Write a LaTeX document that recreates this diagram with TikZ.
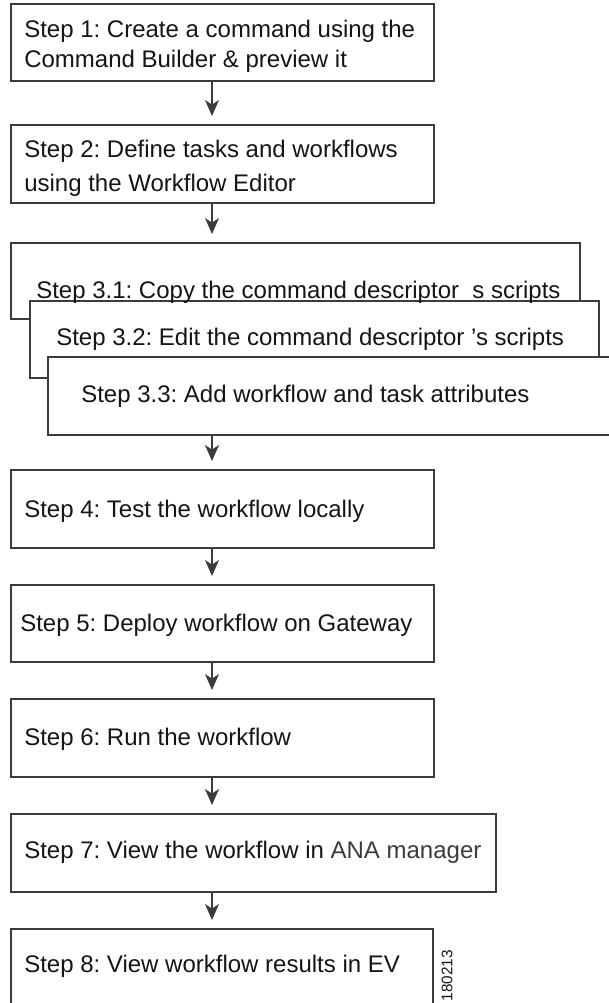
\documentclass[tikz,border=0pt]{standalone}
\usepackage{fontspec}
\setmainfont{Liberation Sans}
\usetikzlibrary{arrows.meta}
\definecolor{ink}{HTML}{151515}
\definecolor{edge}{HTML}{3C3C3C}
\frenchspacing
\begin{document}
\begin{tikzpicture}[x=0.75pt,y=-0.75pt,
  stepbox/.style={draw=edge, line width=1.3pt, fill=white, rectangle,
    anchor=north west, inner sep=0pt},
  steptext/.style={anchor=base west, inner sep=0pt, text=ink,
    font=\fontsize{18}{21.6}\selectfont},
  flow/.style={draw=edge, line width=1.2pt,
    -{Stealth[length=12pt, width=10.5pt, inset=3.5pt]}, shorten >=6pt},
  figid/.style={rotate=90, anchor=east, inner sep=0pt, text=ink,
    font=\fontsize{11.5}{12}\selectfont}]

\useasboundingbox (0,0) rectangle (608,1003);

% column of the connectors
\coordinate (ax) at (212,0);

% step boxes
\node[stepbox, minimum width=317.25pt, minimum height=57.75pt] (b1) at (10,3) {};
\node[stepbox, minimum width=317.25pt, minimum height=58.5pt] (b2) at (10,124) {};
\node[stepbox, minimum width=426.75pt, minimum height=57pt] (b31) at (10,242) {};
\node[stepbox, minimum width=426.75pt, minimum height=57.75pt] (b32) at (29,300) {};
\node[stepbox, minimum width=423.75pt, minimum height=58.5pt] (b33) at (47,356) {};
\node[stepbox, minimum width=317.25pt, minimum height=58.5pt] (b4) at (10,469) {};
\node[stepbox, minimum width=317.25pt, minimum height=57.75pt] (b5) at (10,584) {};
\node[stepbox, minimum width=317.25pt, minimum height=58.5pt] (b6) at (10,698) {};
\node[stepbox, minimum width=363.75pt, minimum height=58.5pt] (b7) at (10,813) {};
\node[stepbox, minimum width=316.5pt, minimum height=58.5pt] (b8) at (10,928) {};

% step labels
\node[steptext] (t1a) at (24,37) {Step 1: Create a command using the};
\node[steptext] (t1b) at (24,67) {Command Builder \& preview it};
\node[steptext] (t2a) at (24,157) {Step 2: Define tasks and workflows};
\node[steptext] (t2b) at (24,191) {using the Workflow Editor};
\node[steptext] (t31) at (36,298) {Step 3.1: Copy the command descriptor\hspace{10pt}s scripts};
\node[steptext] (t32) at (56,345) {Step 3.2: Edit the command descriptor ’s scripts};
\node[steptext] (t33) at (81,402) {Step 3.3: Add workflow and task attributes};
\node[steptext] (t4) at (24,517) {Step 4: Test the workflow locally};
\node[steptext] (t5) at (20,631) {Step 5: Deploy workflow on Gateway};
\node[steptext] (t6) at (24,745) {Step 6: Run the workflow};
\node[steptext] (t7) at (24,858) {Step 7: View the workflow in \textcolor{edge}{ANA manager}};
\node[steptext] (t8) at (24,972) {Step 8: View workflow results in EV};

% connectors
\draw[flow] (b1.south -| ax) -- (b2.north -| ax);
\draw[flow] (b2.south -| ax) -- (b31.north -| ax);
\draw[flow] (b33.south -| ax) -- (b4.north -| ax);
\draw[flow] (b4.south -| ax) -- (b5.north -| ax);
\draw[flow] (b5.south -| ax) -- (b6.north -| ax);
\draw[flow] (b6.south -| ax) -- (b7.north -| ax);
\draw[flow] (b7.south -| ax) -- (b8.north -| ax);

% figure number
\node[figid] (fid) at (447,950) {180213};
\end{tikzpicture}
\end{document}
